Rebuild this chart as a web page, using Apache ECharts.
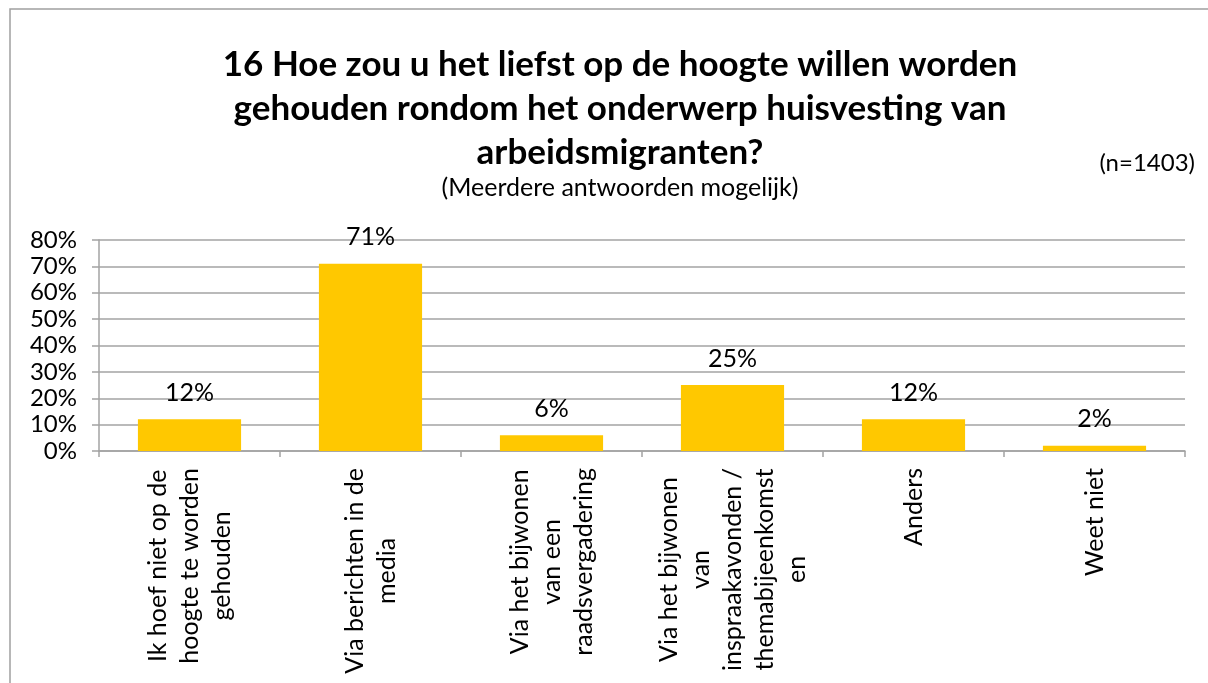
<!DOCTYPE html>
<html>
<head>
<meta charset="utf-8">
<script src="https://cdn.jsdelivr.net/npm/echarts@6/dist/echarts.min.js"></script>
<style>
  html, body { margin: 0; padding: 0; background: #fff; }
  #chart { width: 1208px; height: 683px; }
</style>
</head>
<body>
<div id="chart"></div>
<script>
// Survey answers (percent of respondents, multiple answers allowed)
const categories = [
  'Ik hoef niet op de\nhoogte te worden\ngehouden',
  'Via berichten in de\nmedia',
  'Via het bijwonen\nvan een\nraadsvergadering',
  'Via het bijwonen\nvan\ninspraakavonden /\nthemabijeenkomst\nen',
  'Anders',
  'Weet niet'
];
const values = [12, 71, 6, 25, 12, 2];
const yTicks = [0, 10, 20, 30, 40, 50, 60, 70, 80];

const titleText = '16 Hoe zou u het liefst op de hoogte willen worden\ngehouden rondom het onderwerp huisvesting van\narbeidsmigranten?';
const subtitleText = '(Meerdere antwoorden mogelijk)';
const sampleText = '(n=1403)';

const FONT = 'Lato, "Open Sans", sans-serif';
const GRID_COLOR = '#a3a3a3';

const chart = echarts.init(document.getElementById('chart'), null, { renderer: 'canvas' });

chart.setOption({
  backgroundColor: '#ffffff',
  animation: false,
  title: [
    {
      text: titleText,
      left: 615, top: 38, textAlign: 'center',
      textStyle: { fontFamily: FONT, fontWeight: 'bold', fontSize: 35, lineHeight: 44, color: '#000' }
    },
    {
      text: subtitleText,
      left: 615, top: 168, textAlign: 'center',
      textStyle: { fontFamily: FONT, fontWeight: 'normal', fontSize: 25, lineHeight: 30, color: '#000' }
    },
    {
      text: sampleText,
      right: 8, top: 143,
      textStyle: { fontFamily: FONT, fontWeight: 'normal', fontSize: 24, lineHeight: 30, color: '#000' }
    }
  ],
  graphic: [
    {
      // outer chart frame, open to the right and bottom
      type: 'rect',
      shape: { x: 10, y: 9, width: 1400, height: 900 },
      style: { fill: 'none', stroke: '#a0a0a0', lineWidth: 1.5 },
      silent: true
    }
  ],
  grid: { left: 99, right: 23, top: 240, bottom: 232, containLabel: false },
  xAxis: {
    type: 'category',
    data: categories,
    axisLine: { show: true, lineStyle: { color: GRID_COLOR, width: 1.5 } },
    axisTick: { show: true, length: 6, alignWithLabel: false, lineStyle: { color: GRID_COLOR, width: 1.5 } },
    axisLabel: {
      interval: 0,
      rotate: 90,
      margin: 17,
      fontFamily: FONT,
      fontSize: 25,
      color: '#000',
      lineHeight: 32,
      formatter: function (v) {
        return v.split('\n').map(function (l) { return '{c|' + l + '}'; }).join('\n');
      },
      rich: { c: { align: 'center', fontFamily: FONT, fontSize: 25, lineHeight: 32, color: '#000' } }
    }
  },
  yAxis: {
    type: 'value',
    min: 0,
    max: 80,
    interval: 10,
    axisLine: { show: true, lineStyle: { color: GRID_COLOR, width: 1.5 } },
    axisTick: { show: true, length: 7, lineStyle: { color: GRID_COLOR, width: 1.5 } },
    splitLine: { show: true, lineStyle: { color: GRID_COLOR, width: 1.5 } },
    axisLabel: {
      margin: 22,
      fontFamily: FONT,
      fontSize: 24,
      color: '#000',
      formatter: function (v) { return yTicks.indexOf(v) >= 0 ? v + '%' : ''; }
    }
  },
  series: [
    {
      type: 'bar',
      data: values,
      barWidth: '57%',
      itemStyle: { color: '#ffc800' },
      label: {
        show: true,
        position: 'top',
        distance: 14,
        fontFamily: FONT,
        fontSize: 25,
        color: '#000',
        formatter: '{c}%'
      }
    }
  ]
});
</script>
</body>
</html>
